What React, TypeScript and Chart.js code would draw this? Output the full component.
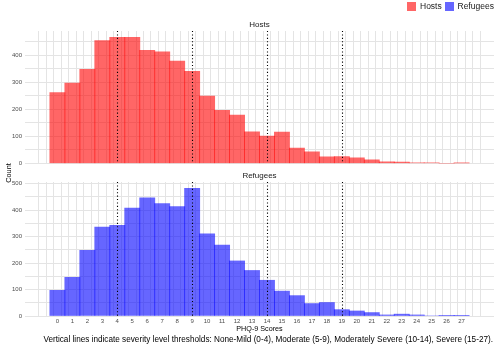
import React, { useEffect, useRef } from "react";
import { Chart, registerables } from "chart.js";

Chart.register(...registerables);

// ---- Data ----
const scores = [0, 1, 2, 3, 4, 5, 6, 7, 8, 9, 10, 11, 12, 13, 14, 15, 16, 17, 18, 19, 20, 21, 22, 23, 24, 25, 26, 27];
const hostsCounts = [262, 297, 348, 454, 466, 466, 418, 412, 378, 340, 249, 196, 179, 117, 101, 116, 57, 43, 24, 25, 21, 13, 6, 5, 2, 2, 0, 1];
const refugeesCounts = [97, 146, 248, 336, 342, 408, 446, 425, 413, 482, 310, 268, 208, 172, 135, 94, 77, 47, 51, 24, 19, 13, 4, 7, 4, 0, 1, 1];
const xTickLabels = ["0", "1", "2", "3", "4", "5", "6", "7", "8", "9", "10", "11", "12", "13", "14", "15", "16", "17", "18", "19", "20", "21", "22", "23", "24", "25", "26", "27"];
const xGridValues = [-1, -0.5, 0, 0.5, 1, 1.5, 2, 2.5, 3, 3.5, 4, 4.5, 5, 5.5, 6, 6.5, 7, 7.5, 8, 8.5, 9, 9.5, 10, 10.5, 11, 11.5, 12, 12.5, 13, 13.5, 14, 14.5, 15, 15.5, 16, 16.5, 17, 17.5, 18, 18.5, 19, 19.5, 20, 20.5, 21, 21.5, 22, 22.5, 23, 23.5, 24, 24.5, 25, 25.5, 26, 26.5, 27, 27.5, 28];
const hostsYGrid = [0, 50, 100, 150, 200, 250, 300, 350, 400, 450];
const refugeesYGrid = [0, 50, 100, 150, 200, 250, 300, 350, 400, 450, 500];
const yTickLabels = ["0", "100", "200", "300", "400", "500"];
const thresholds = [4, 9, 14, 19];
const groups = ["Hosts", "Refugees"];
const caption =
  "Vertical lines indicate severity level thresholds: None-Mild (0-4), Moderate (5-9), Moderately Severe (10-14), Severe (15-27).";

// ---- Style ----
const FONT = '"Liberation Sans", Arial, Helvetica, sans-serif';
const GRID = "#e4e4e4";
const HOSTS_FILL = "rgba(255,0,0,0.6)";
const REFUGEES_FILL = "rgba(0,0,255,0.6)";
const X_MIN = -1.9;
const X_MAX = 28.9;
const PLOT_LEFT = 25;
const PLOT_RIGHT_PAD = 1;
const CANVAS_W = 495;
const BIN_WIDTH_PX = (CANVAS_W - PLOT_RIGHT_PAD - PLOT_LEFT) / (X_MAX - X_MIN);

const dottedLines = {
  id: "dottedLines",
  afterDatasetsDraw(chart: any) {
    const { ctx, chartArea, scales } = chart;
    ctx.save();
    ctx.strokeStyle = "#000000";
    ctx.lineWidth = 1.1;
    ctx.setLineDash([1.1, 2.3]);
    thresholds.forEach((t) => {
      const x = Math.round(scales.x.getPixelForValue(t)) + 0.5;
      ctx.beginPath();
      ctx.moveTo(x, chartArea.top);
      ctx.lineTo(x, chartArea.bottom);
      ctx.stroke();
    });
    ctx.restore();
  },
};

function makeConfig(
  counts: number[],
  fill: string,
  yMax: number,
  yGrid: number[],
  showX: boolean,
  padding: { top: number; bottom: number }
): any {
  return {
    type: "bar",
    data: {
      datasets: [
        {
          data: scores.map((s, i) => ({ x: s, y: counts[i] })),
          backgroundColor: fill,
          borderWidth: 0,
          barThickness: BIN_WIDTH_PX,
        },
      ],
    },
    options: {
      animation: false,
      responsive: false,
      maintainAspectRatio: false,
      layout: { padding: { left: 0, right: PLOT_RIGHT_PAD, top: padding.top, bottom: padding.bottom } },
      plugins: { legend: { display: false }, tooltip: { enabled: false } },
      scales: {
        x: {
          type: "linear",
          min: X_MIN,
          max: X_MAX,
          bounds: "data",
          afterBuildTicks: (scale: any) => {
            scale.ticks = xGridValues.map((v) => ({ value: v }));
          },
          afterFit: (scale: any) => {
            scale.height = showX ? 12 : 0;
          },
          ticks: {
            display: showX,
            autoSkip: false,
            maxRotation: 0,
            minRotation: 0,
            padding: 2,
            color: "#4d4d4d",
            font: { family: FONT, size: 6 },
            callback: (value: number) =>
              Number.isInteger(value) && value >= 0 && value < xTickLabels.length ? xTickLabels[value] : "",
          },
          grid: { color: GRID, lineWidth: 1, drawTicks: false },
          border: { display: false },
        },
        y: {
          type: "linear",
          min: 0,
          max: yMax,
          bounds: "data",
          afterBuildTicks: (scale: any) => {
            scale.ticks = yGrid.map((v) => ({ value: v }));
          },
          afterFit: (scale: any) => {
            scale.width = PLOT_LEFT;
          },
          ticks: {
            autoSkip: false,
            padding: 3,
            color: "#4d4d4d",
            font: { family: FONT, size: 6 },
            callback: (value: number) => (value % 100 === 0 ? yTickLabels[value / 100] : ""),
          },
          grid: { color: GRID, lineWidth: 1, drawTicks: false },
          border: { display: false },
        },
      },
    },
    plugins: [dottedLines],
  };
}

function Panel(props: { config: any; top: number; height: number }) {
  const ref = useRef<HTMLCanvasElement | null>(null);
  useEffect(() => {
    if (!ref.current) return;
    const chart = new Chart(ref.current, props.config);
    return () => chart.destroy();
  }, []);
  return (
    <canvas
      ref={ref}
      width={CANVAS_W}
      height={props.height}
      style={{ position: "absolute", left: 0, top: props.top, width: CANVAS_W, height: props.height }}
    />
  );
}

const textBase: React.CSSProperties = {
  position: "absolute",
  fontFamily: FONT,
  whiteSpace: "nowrap",
  lineHeight: 1,
  color: "#1a1a1a",
};

export default function App() {
  const hostsMax = Math.max(...hostsCounts) * 1.05;
  const refMax = Math.max(...refugeesCounts) * 1.05;
  return (
    <div
      style={{
        position: "fixed",
        left: 0,
        top: 0,
        width: 495,
        height: 348,
        background: "#ffffff",
        overflow: "hidden",
      }}
    >
      <Panel top={0} height={170} config={makeConfig(hostsCounts, HOSTS_FILL, hostsMax, hostsYGrid, false, { top: 31, bottom: 5 })} />
      <Panel top={170} height={178} config={makeConfig(refugeesCounts, REFUGEES_FILL, refMax, refugeesYGrid, true, { top: 12, bottom: 20 })} />

      {/* Legend */}
      <div style={{ position: "absolute", left: 407, top: 1.5, width: 9, height: 9, background: HOSTS_FILL }} />
      <div style={{ ...textBase, left: 420, top: 6, transform: "translateY(-50%)", fontSize: 8.5 }}>{groups[0]}</div>
      <div style={{ position: "absolute", left: 445, top: 1.5, width: 9, height: 9, background: REFUGEES_FILL }} />
      <div style={{ ...textBase, left: 457.5, top: 6, transform: "translateY(-50%)", fontSize: 8.5 }}>{groups[1]}</div>

      {/* Strip labels */}
      <div style={{ ...textBase, left: 259.5, top: 25, transform: "translate(-50%,-50%)", fontSize: 8 }}>{groups[0]}</div>
      <div style={{ ...textBase, left: 259.5, top: 176, transform: "translate(-50%,-50%)", fontSize: 8 }}>{groups[1]}</div>

      {/* Axis titles */}
      <div style={{ ...textBase, left: 9, top: 173, transform: "translate(-50%,-50%) rotate(-90deg)", fontSize: 7.3, color: "#000" }}>Count</div>
      <div style={{ ...textBase, left: 259.5, top: 328.5, transform: "translate(-50%,-50%)", fontSize: 7.2, color: "#000" }}>PHQ-9 Scores</div>

      {/* Caption */}
      <div style={{ ...textBase, right: 2, top: 339.5, transform: "translateY(-50%)", fontSize: 8.2, color: "#000" }}>{caption}</div>
    </div>
  );
}
